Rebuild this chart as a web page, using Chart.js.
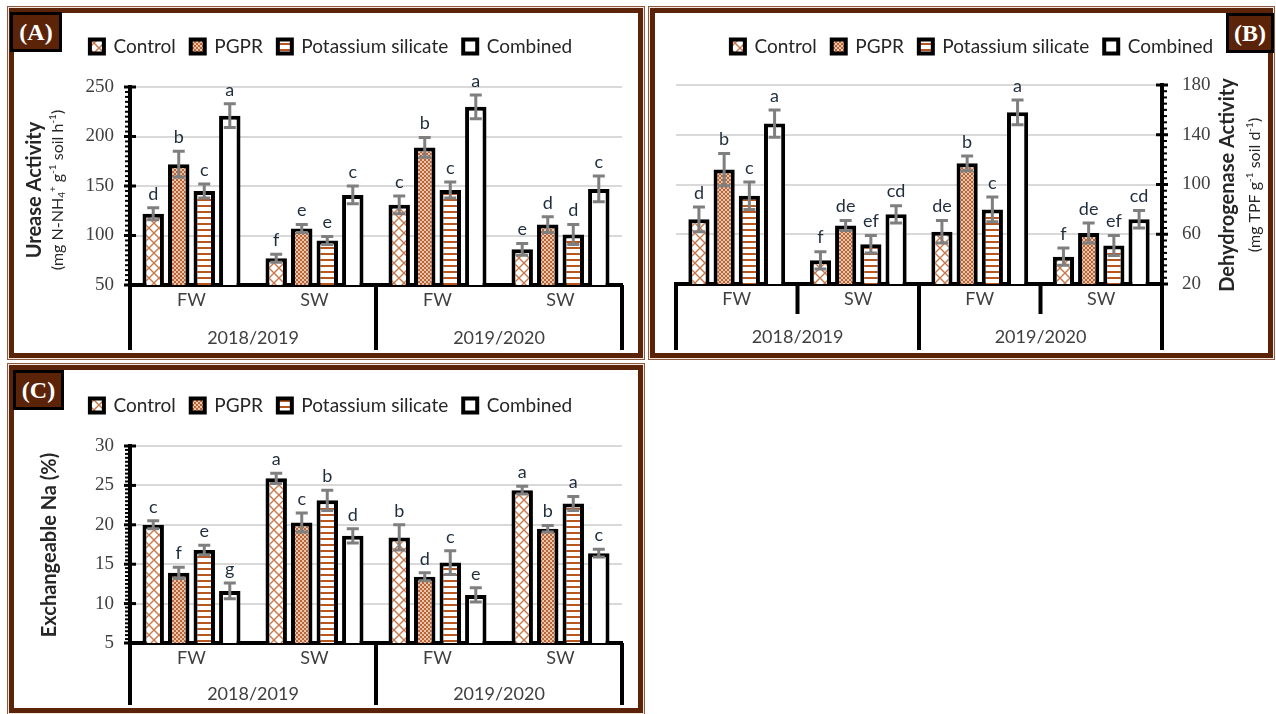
<!DOCTYPE html>
<html>
<head>
<meta charset="utf-8">
<script src="https://cdn.jsdelivr.net/npm/chart.js@4.4.1/dist/chart.umd.min.js"></script>
<style>
    body { margin: 0; width: 1276px; height: 714px; background: #fff; position: relative; overflow: hidden; }
    .panel { position: absolute; box-sizing: border-box; border: 5px solid #5b2409; box-shadow: 0 0 0 1px #f3e6df, 0 0 0 2px #8c5a40; background: #fff; }
    .panel canvas { position: absolute; left: 0; top: 0; }
    .badge { position: absolute; box-sizing: border-box; background: #5b2409; border: 3px solid #000; color: #fff;
             font: bold 24px "Liberation Serif", serif; display: flex; align-items: center; justify-content: center; }
</style>
</head>
<body>
<div class="panel" style="left:9px; top:8px; width:634px; height:350px;"><canvas id="urease_chart" width="624" height="340"></canvas></div>
<div class="panel" style="left:650px; top:8px; width:623px; height:350px;"><canvas id="dehydro_chart" width="613" height="340"></canvas></div>
<div class="panel" style="left:9px; top:365px; width:634px; height:348px;"><canvas id="sodium_chart" width="624" height="338"></canvas></div>
<div class="badge" style="left:10px; top:12px; width:52px; height:40px;">(A)</div>
<div class="badge" style="left:1226px; top:13px; width:48px; height:40px;">(B)</div>
<div class="badge" style="left:13px; top:370px; width:51px; height:40px;">(C)</div>

<script>
// Catégories
const treatments = ["Control", "PGPR", "Potassium silicate", "Combined"];
const waterTypes = ["FW", "SW", "FW", "SW"];
const seasons = ["2018/2019", "2019/2020"];

// (A) Urease activity
const ureaseControl = [122, 77, 131, 86];
const ureasePgpr = [172, 107, 189, 111];
const ureasePotassium = [145, 95, 146, 101];
const ureaseCombined = [221, 141, 230, 147];
const ureaseErrControl = [6, 4, 9, 6];
const ureaseErrPgpr = [13, 4, 10, 8];
const ureaseErrPotassium = [7, 4, 8, 10];
const ureaseErrCombined = [12, 9, 12, 13];
const ureaseLetters = [["d", "f", "c", "e"], ["b", "e", "b", "d"], ["c", "e", "c", "d"], ["a", "c", "a", "c"]];
const ureaseTicks = { min: 50, max: 250, step: 50 };

// (B) Dehydrogenase activity
const dehydroControl = [72, 39, 62, 42];
const dehydroPgpr = [112, 67, 117, 61];
const dehydroPotassium = [91, 52, 80, 51];
const dehydroCombined = [149, 76, 158, 72];
const dehydroErrControl = [10, 7, 9, 7];
const dehydroErrPgpr = [13, 4, 6, 8];
const dehydroErrPotassium = [11, 7, 10, 8];
const dehydroErrCombined = [11, 7, 10, 7];
const dehydroLetters = [["d", "f", "de", "f"], ["b", "de", "b", "de"], ["c", "ef", "c", "ef"], ["a", "cd", "a", "cd"]];
const dehydroTicks = { min: 20, max: 180, step: 40 };

// (C) Exchangeable Na
const sodiumControl = [20.0, 25.9, 18.4, 24.4];
const sodiumPgpr = [13.9, 20.3, 13.4, 19.5];
const sodiumPotassium = [16.8, 23.1, 15.2, 22.7];
const sodiumCombined = [11.6, 18.6, 11.1, 16.4];
const sodiumErrControl = [0.5, 0.65, 1.6, 0.5];
const sodiumErrPgpr = [0.7, 1.2, 0.5, 0.4];
const sodiumErrPotassium = [0.6, 1.3, 1.5, 0.9];
const sodiumErrCombined = [1.0, 0.9, 0.9, 0.5];
const sodiumLetters = [["c", "a", "b", "a"], ["f", "c", "d", "b"], ["e", "b", "c", "a"], ["g", "d", "e", "c"]];
const sodiumTicks = { min: 5, max: 30, step: 5 };

// Titres des axes Y (texte + exposants / indices)
const ureaseTitle = "Urease Activity";
const ureaseUnit = [["(mg N-NH", ""], ["4", "sub"], ["+", "sup"], [" g", ""], ["-1", "sup"], [" soil h", ""], ["-1", "sup"], [")", ""]];
const dehydroTitle = "Dehydrogenase Activity";
const dehydroUnit = [["(mg TPF g", ""], ["-1", "sup"], [" soil d", ""], ["-1", "sup"], [")", ""]];
const sodiumTitle = "Exchangeable Na (%)";

// Motifs de remplissage des barres
function makePattern(kind) {
    const c = document.createElement("canvas");
    const g = c.getContext("2d");
    if (kind === "cross") {
        c.width = 10; c.height = 10;
        g.fillStyle = "#fff"; g.fillRect(0, 0, 10, 10);
        g.strokeStyle = "#c8784a"; g.lineWidth = 1.4;
        g.beginPath();
        g.moveTo(0, 0); g.lineTo(10, 10);
        g.moveTo(10, 0); g.lineTo(0, 10);
        g.stroke();
    } else if (kind === "dots") {
        c.width = 4; c.height = 4;
        g.fillStyle = "#e8c4a8"; g.fillRect(0, 0, 4, 4);
        g.fillStyle = "#b9653a";
        g.fillRect(0, 0, 2, 2); g.fillRect(2, 2, 2, 2);
    } else if (kind === "stripes") {
        c.width = 6; c.height = 6;
        g.fillStyle = "#fff"; g.fillRect(0, 0, 6, 6);
        g.fillStyle = "#b8561f"; g.fillRect(0, 0, 6, 2);
    } else {
        c.width = 2; c.height = 2;
        g.fillStyle = "#fff"; g.fillRect(0, 0, 2, 2);
    }
    return document.createElement("canvas").getContext("2d").createPattern(c, "repeat");
}
const fills = [makePattern("cross"), makePattern("dots"), makePattern("stripes"), makePattern("plain")];

// Dessin d'un texte tourné composé de morceaux (exposants / indices)
function drawRuns(ctx, runs, x, y, size) {
    ctx.save();
    ctx.translate(x, y);
    ctx.rotate(-Math.PI / 2);
    ctx.textBaseline = "middle";
    ctx.textAlign = "left";
    ctx.fillStyle = "#262626";
    const big = size + "px Lato";
    const small = Math.round(size * 0.65) + "px Lato";
    let total = 0;
    runs.forEach((r) => { ctx.font = r[1] ? small : big; total += ctx.measureText(r[0]).width; });
    let cx = -total / 2;
    runs.forEach((r) => {
        ctx.font = r[1] ? small : big;
        const dy = r[1] === "sup" ? -5 : r[1] === "sub" ? 4 : 0;
        ctx.fillText(r[0], cx, dy);
        cx += ctx.measureText(r[0]).width;
    });
    ctx.restore();
}

const decorPlugin = {
    id: "decor",
    afterDatasetsDraw(chart, args, opts) {
        const ctx = chart.ctx;
        const yScale = chart.scales.y;
        chart.data.datasets.forEach((ds, i) => {
            chart.getDatasetMeta(i).data.forEach((bar, j) => {
                const v = ds.data[j];
                const e = opts.errors[i][j];
                const yTop = yScale.getPixelForValue(v + e);
                const yBot = yScale.getPixelForValue(v - e);
                ctx.save();
                ctx.strokeStyle = "#7f7f7f";
                ctx.lineWidth = 3;
                ctx.beginPath();
                ctx.moveTo(bar.x, yTop); ctx.lineTo(bar.x, yBot);
                ctx.moveTo(bar.x - 6, yTop); ctx.lineTo(bar.x + 6, yTop);
                ctx.moveTo(bar.x - 6, yBot); ctx.lineTo(bar.x + 6, yBot);
                ctx.stroke();
                // lettres de significativité
                ctx.fillStyle = "#1f2d3d";
                ctx.font = "18px Lato";
                ctx.textAlign = "center";
                ctx.textBaseline = "bottom";
                ctx.fillText(opts.letters[i][j], bar.x, yTop - 5);
                ctx.restore();
            });
        });
    },
    afterDraw(chart, args, opts) {
        const ctx = chart.ctx;
        const ca = chart.chartArea;
        const y = chart.scales.y;
        ctx.save();
        ctx.fillStyle = "#000";
        // graduations de l'axe Y
        const axisX = opts.rightAxis ? ca.right : ca.left;
        const n = Math.round((y.max - y.min) / opts.minor);
        for (let k = 0; k <= n; k++) {
            const v = y.min + k * opts.minor;
            const py = y.getPixelForValue(v);
            const r = (v - y.min) / opts.step;
            if (Math.abs(r - Math.round(r)) < 1e-6) {
                ctx.fillRect(axisX - 6, py - 1.5, 12, 3);
            } else {
                ctx.fillRect(opts.rightAxis ? axisX + 1 : axisX - 5, py - 1, 4, 2);
            }
        }
        // séparateurs de l'axe X à deux niveaux
        const w = (ca.right - ca.left) / waterTypes.length;
        for (let i = 0; i <= waterTypes.length; i++) {
            const bx = ca.left + i * w;
            const long = i % 2 === 0;
            if (!long && !opts.shortLines) continue;
            const bottom = long ? chart.height - 3 : ca.bottom + 30;
            ctx.fillRect(bx - 2, ca.bottom, 4, bottom - ca.bottom);
        }
        ctx.restore();
        // titres des axes Y
        ctx.save();
        ctx.translate(opts.titleX, opts.titleY);
        ctx.rotate(-Math.PI / 2);
        ctx.font = "bold 20px Lato";
        ctx.fillStyle = "#262626";
        ctx.textAlign = "center";
        ctx.textBaseline = "middle";
        ctx.fillText(opts.title, 0, 0);
        ctx.restore();
        if (opts.unit) drawRuns(ctx, opts.unit, opts.unitX, opts.titleY, 16);
    },
};

function buildChart(canvasId, series, errors, letters, ticks, cfg) {
    const ctx = document.getElementById(canvasId).getContext("2d");
    const datasets = treatments.map((name, i) => ({
        label: name,
        data: series[i],
        backgroundColor: fills[i],
        borderColor: "#000",
        borderWidth: 4,
        borderSkipped: "start",
        categoryPercentage: 0.83,
        barPercentage: 0.84,
        xAxisID: "x",
        yAxisID: "y",
    }));
    return new Chart(ctx, {
        type: "bar",
        data: { labels: waterTypes, datasets: datasets },
        plugins: [decorPlugin],
        options: {
            responsive: false,
            animation: false,
            layout: { padding: cfg.padding },
            plugins: {
                tooltip: { enabled: false },
                legend: {
                    position: "top",
                    labels: {
                        font: { family: "Lato", size: 19 },
                        color: "#262626",
                        boxWidth: 14,
                        boxHeight: 14,
                        padding: 15,
                    },
                },
                decor: Object.assign({ errors: errors, letters: letters, step: ticks.step }, cfg.decor),
            },
            scales: {
                pad: {
                    axis: "x",
                    type: "category",
                    labels: [""],
                    position: "top",
                    grid: { display: false, drawTicks: false },
                    border: { display: false },
                    ticks: { display: false },
                    afterFit: (s) => { s.height = cfg.padTop; },
                },
                x: {
                    position: "bottom",
                    grid: { display: false, drawTicks: false },
                    border: { display: true, color: "#000", width: 4 },
                    ticks: { font: { family: "Lato", size: 18 }, color: "#404040", padding: 4 },
                    afterFit: (s) => { s.height = cfg.xHeights[0]; },
                },
                x2: {
                    type: "category",
                    labels: seasons,
                    position: "bottom",
                    weight: 1,
                    grid: { display: false, drawTicks: false },
                    border: { display: false },
                    ticks: { font: { family: "Lato", size: 18 }, color: "#404040", padding: 8 },
                    afterFit: (s) => { s.height = cfg.xHeights[1]; },
                },
                y: {
                    position: cfg.decor.rightAxis ? "right" : "left",
                    min: ticks.min,
                    max: ticks.max,
                    grid: { color: "#d9d9d9", lineWidth: 2, drawTicks: false },
                    border: { display: true, color: "#000", width: 4 },
                    ticks: {
                        stepSize: ticks.step,
                        font: { family: "Liberation Serif", size: 19 },
                        color: "#404040",
                        padding: cfg.tickPad,
                    },
                    afterFit: (s) => { s.width = cfg.yWidth; },
                },
            },
        },
    });
}

buildChart("urease_chart",
    [ureaseControl, ureasePgpr, ureasePotassium, ureaseCombined],
    [ureaseErrControl, ureaseErrPgpr, ureaseErrPotassium, ureaseErrCombined],
    ureaseLetters, ureaseTicks,
    {
        padding: { top: 9, right: 16, left: 26, bottom: 0 },
        padTop: 21, xHeights: [34, 34], yWidth: 90, tickPad: 16,
        decor: { minor: 5, rightAxis: false, shortLines: false, title: ureaseTitle, unit: ureaseUnit, titleX: 21, unitX: 44, titleY: 177 },
    });

buildChart("dehydro_chart",
    [dehydroControl, dehydroPgpr, dehydroPotassium, dehydroCombined],
    [dehydroErrControl, dehydroErrPgpr, dehydroErrPotassium, dehydroErrCombined],
    dehydroLetters, dehydroTicks,
    {
        padding: { top: 9, right: 0, left: 21, bottom: 0 },
        padTop: 19, xHeights: [34, 35], yWidth: 106, tickPad: 20,
        decor: { minor: 5, rightAxis: true, shortLines: true, title: dehydroTitle, unit: dehydroUnit, titleX: 573, unitX: 600, titleY: 172 },
    });

buildChart("sodium_chart",
    [sodiumControl, sodiumPgpr, sodiumPotassium, sodiumCombined],
    [sodiumErrControl, sodiumErrPgpr, sodiumErrPotassium, sodiumErrCombined],
    sodiumLetters, sodiumTicks,
    {
        padding: { top: 11, right: 16, left: 26, bottom: 0 },
        padTop: 21, xHeights: [32, 33], yWidth: 90, tickPad: 16,
        decor: { minor: 0.5, rightAxis: false, shortLines: false, title: sodiumTitle, unit: null, titleX: 36, unitX: 0, titleY: 175 },
    });
</script>
</body>
</html>
